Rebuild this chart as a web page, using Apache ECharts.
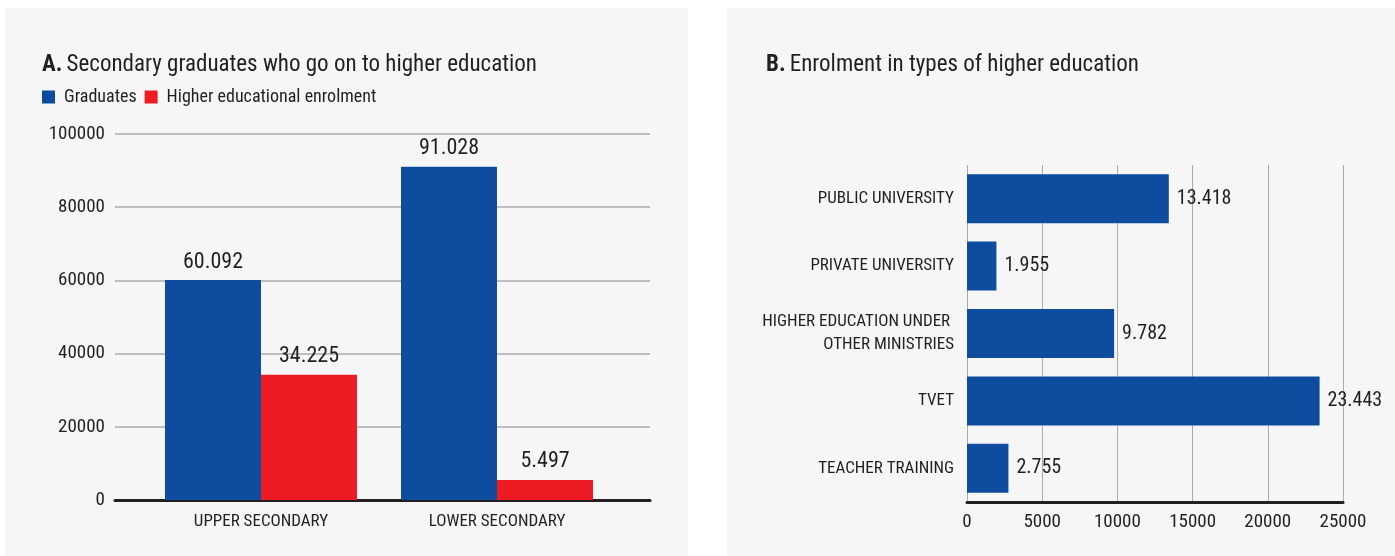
<!DOCTYPE html>
<html>
<head>
<meta charset="utf-8">
<script src="https://cdn.jsdelivr.net/npm/echarts@6/dist/echarts.min.js"></script>
<style>
html,body{margin:0;padding:0;background:#ffffff;}
#chart{width:1395px;height:556px;}
</style>
</head>
<body>
<div id="chart"></div>
<script>
// ---- Data ----
const levelCategories = ['UPPER SECONDARY', 'LOWER SECONDARY'];
const graduates = [60092, 91028];
const higherEnrolment = [34225, 5497];
const seriesNames = ['Graduates', 'Higher educational enrolment'];

const typeCategories = ['PUBLIC UNIVERSITY', 'PRIVATE UNIVERSITY', 'HIGHER EDUCATION UNDER \nOTHER MINISTRIES', 'TVET', 'TEACHER TRAINING'];
const typeEnrolment = [13418, 1955, 9782, 23443, 2755];

const titleA = 'Secondary graduates who go on to higher education';
const titleB = 'Enrolment in types of higher education';

// ---- Style ----
const FONT = '"Roboto Condensed", "DejaVu Sans Condensed", sans-serif';
const BLUE = '#0E4C9F';
const RED = '#ED1C24';
const TXT = '#231F20';
const GRIDC = '#ABABAB';

function fmt(v) {
  return String(v).replace(/\B(?=(\d{3})+(?!\d))/g, '.');
}
function plain(v) { return String(v); }

const chart = echarts.init(document.getElementById('chart'), null, {renderer: 'canvas'});

const titleRich = {
  b: {fontFamily: FONT, fontSize: 23, fontWeight: 'bold', color: TXT},
  r: {fontFamily: FONT, fontSize: 23, fontWeight: 'normal', color: TXT}
};

const option = {
  backgroundColor: '#ffffff',
  animation: false,
  textStyle: {fontFamily: FONT},
  graphic: [
    {type: 'rect', z: -10, silent: true, shape: {x: 5, y: 8, width: 683, height: 560}, style: {fill: '#F6F6F6'}},
    {type: 'rect', z: -10, silent: true, shape: {x: 727, y: 8, width: 680, height: 560}, style: {fill: '#F6F6F6'}}
  ],
  title: [
    {
      left: 42, top: 54, padding: 0,
      text: '{b|A.} {r|' + titleA + '}',
      textStyle: {fontWeight: 'normal', rich: titleRich}
    },
    {
      left: 766, top: 54, padding: 0,
      text: '{b|B.} {r|' + titleB + '}',
      textStyle: {fontWeight: 'normal', rich: titleRich}
    }
  ],
  legend: {
    left: 42, top: 88, padding: 0,
    icon: 'rect',
    itemWidth: 13, itemHeight: 13, itemGap: 8,
    data: seriesNames,
    textStyle: {fontFamily: FONT, fontSize: 18, color: TXT, padding: [0, 0, 0, 4]}
  },
  grid: [
    {left: 115, top: 134, width: 535, height: 366},
    {left: 143, top: 134, width: 472, height: 366},
    {left: 967, top: 165, width: 376, height: 337}
  ],
  xAxis: [
    {
      gridIndex: 0, type: 'category', data: levelCategories,
      axisLine: {show: true, lineStyle: {color: '#231F20', width: 3}},
      axisTick: {show: false}, axisLabel: {show: false}, splitLine: {show: false}
    },
    {
      gridIndex: 1, type: 'category', data: levelCategories,
      axisLine: {show: false}, axisTick: {show: false},
      axisLabel: {fontFamily: FONT, fontSize: 17, color: TXT, margin: 13}
    },
    {
      gridIndex: 2, type: 'value', min: 0, max: 25000, interval: 5000,
      axisLine: {show: true, lineStyle: {color: '#231F20', width: 3}},
      axisTick: {show: false},
      axisLabel: {fontFamily: FONT, fontSize: 19, color: TXT, margin: 11, formatter: plain},
      splitLine: {show: true, lineStyle: {color: GRIDC, width: 1}}
    }
  ],
  yAxis: [
    {
      gridIndex: 0, type: 'value', min: 0, max: 100000, interval: 20000,
      axisLine: {show: false}, axisTick: {show: false},
      axisLabel: {fontFamily: FONT, fontSize: 19, color: TXT, margin: 10, formatter: plain},
      splitLine: {show: true, lineStyle: {color: GRIDC, width: 1.5}}
    },
    {
      gridIndex: 1, type: 'value', min: 0, max: 100000, interval: 20000,
      show: false
    },
    {
      gridIndex: 2, type: 'category', data: typeCategories, inverse: true,
      axisLine: {show: false}, axisTick: {show: false},
      axisLabel: {fontFamily: FONT, fontSize: 17, color: TXT, margin: 13, lineHeight: 23, align: 'right'}
    }
  ],
  series: [
    {
      name: seriesNames[0], type: 'bar', xAxisIndex: 1, yAxisIndex: 1,
      data: graduates, barWidth: 96, barGap: '0%',
      itemStyle: {color: BLUE},
      label: {show: true, position: 'top', distance: 7, formatter: p => fmt(p.value),
        fontFamily: FONT, fontSize: 22, color: TXT}
    },
    {
      name: seriesNames[1], type: 'bar', xAxisIndex: 1, yAxisIndex: 1,
      data: higherEnrolment, barWidth: 96, barGap: '0%',
      itemStyle: {color: RED},
      label: {show: true, position: 'top', distance: 7, formatter: p => fmt(p.value),
        fontFamily: FONT, fontSize: 22, color: TXT}
    },
    {
      name: 'Enrolment', type: 'bar', xAxisIndex: 2, yAxisIndex: 2,
      data: typeEnrolment, barWidth: 49,
      itemStyle: {color: BLUE},
      label: {show: true, position: 'right', distance: 8, formatter: p => fmt(p.value),
        fontFamily: FONT, fontSize: 20, color: TXT}
    }
  ]
};

chart.setOption(option);
</script>
</body>
</html>
